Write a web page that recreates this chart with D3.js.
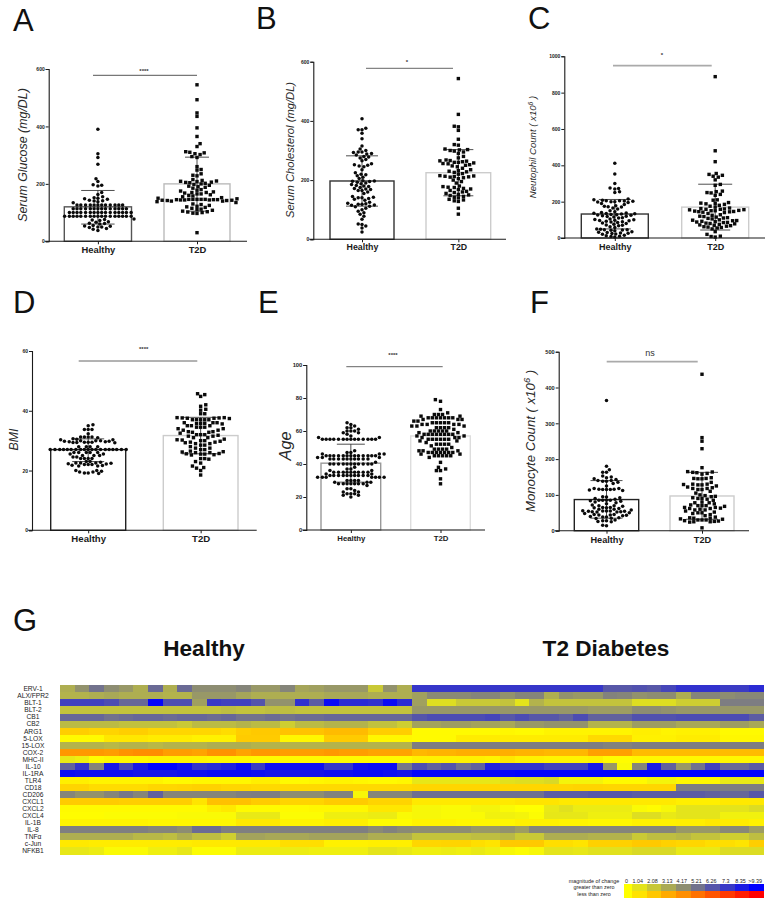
<!DOCTYPE html>
<html><head><meta charset="utf-8">
<script src="https://cdn.jsdelivr.net/npm/d3@7"></script>
<style>html,body{margin:0;padding:0;background:#fff}svg{display:block}text{font-family:"Liberation Sans",Arial,sans-serif}</style>
</head><body><svg id="c" width="774" height="907"></svg>
<script>
const groups=["Healthy","T2D"];
const glucoseHealthy=[390,305,292,268,218,208,197,195,193,170,163,155,152,150,148,146,143,141,140,138,134,
126,126,126,126,126,126,126,126,126,126,126,126,
113,113,113,113,113,113,113,113,113,113,113,113,113,113,
100,100,100,100,100,100,100,100,100,100,100,100,100,100,100,100,
87,87,87,87,87,87,87,87,87,87,87,87,87,87,87,87,87,
78,76,74,72,68,66,63,62,60,55,53,52,50,50,48,45,42,38];
const glucoseT2D=[545,493,447,435,395,365,340,330,312,310,308,305,302,295,292,260,250,248,235,230,228,215,212,210,209,208,206,205,204,202,200,198,195,192,190,188,185,180,178,175,172,170,170,168,165,165,162,160,158,155,152,150,148,146,146,146,146,146,145,145,145,144,144,144,143,143,142,142,140,140,138,135,130,128,125,122,120,118,115,112,110,108,105,103,102,100,98,97,30];
const cholesterolHealthy=[407,375,370,370,358,340,315,305,300,295,295,293,290,288,285,280,278,275,270,265,255,252,250,248,245,235,225,220,218,215,210,205,198,197,196,195,193,190,188,185,182,180,178,175,172,170,168,165,165,160,155,145,142,140,140,138,135,132,125,122,120,118,118,116,115,112,110,105,100,95,90,85,78,68,52,50,45,38,25];
const cholesterolT2D=[543,422,382,380,368,338,320,318,305,303,302,300,298,295,290,280,275,268,266,265,264,262,260,260,258,256,255,252,250,248,245,240,235,232,230,228,226,222,220,215,214,213,212,211,210,208,205,200,195,190,180,178,176,175,172,170,168,165,162,160,158,155,152,150,148,145,142,140,135,133,130,128,105,85];
const neutrophilHealthy=[412,352,300,275,272,270,255,250,215,210,208,205,205,204,202,200,200,198,195,190,185,178,175,172,170,165,160,150,145,140,138,136,135,134,132,130,128,126,125,122,120,118,115,112,110,105,102,100,98,96,95,92,90,88,85,82,80,75,72,70,68,62,58,50,48,46,45,44,42,40,35,32,30,28,26,25,22,20,15,12,10,8,5];
const neutrophilT2D=[888,480,420,355,350,345,340,335,320,295,290,258,255,250,248,240,235,210,208,195,192,190,188,185,180,175,170,165,162,160,158,158,156,155,152,150,150,148,146,145,144,142,140,135,128,125,120,118,115,112,110,108,105,100,98,96,95,92,90,88,86,85,82,80,78,75,72,70,68,65,62,60,58,55,50,35,20,10,8,5];
const bmiHealthy=[35.3,35,33.7,33.7,33.7,32.3,31.2,31.2,31.2,31.2,31,30.6,30.5,30.3,30.3,30,30,30,29.8,29.8,29.6,29.6,29.5,29.5,29.5,29.4,29.4,29.3,28,28,28,28,
27,27,27,27,27,27,27,27,27,27,27,27,27,27,27,27,27,27,27,
26,26,26,26,26,25.5,25.5,25,25,25,24.5,24.5,24,24,24,24,23,23,22.8,22.5,22.5,22.5,22.4,22.3,22.2,22,22,22,21.8,21.7,21.5,21.5,20,20,19.8,19.5,19.5,19.2,19.2,19];
const bmiT2D=[45.7,45.4,44.8,42,41.5,40.5,40.2,39,39,37.7,37.7,37.6,37.6,37.5,37.5,37.4,37,37,37,37,37,36,36,36,35.8,35.8,35.7,35.6,35,35,35,34.5,34.5,34.5,34,34,33.5,33.5,33,33,32.8,32.8,32.5,32,32,32,31.8,31.5,31.5,31,31,30.5,30.3,30.2,30,30,29.8,29.5,29.5,29.3,29,29,28.5,28.5,28,27.5,27.5,27,27,26.5,26.3,26.2,26,26,25.7,25.6,25.5,25.5,25.3,25.2,24,24,23.8,23,22.5,21.5,21,20.8,20,18.5];
const ageHealthy=[65,64,63,62,62,61,60,60,60,59,59,58,57,56,56,
55,55,55,55,55,55,55,55,55,55,55,55,55,55,
48,47,47,46,46,46,45,45,45,45,45,45,45,45,45,45,45,45,45,44,44,44,
43,43,43,43,43,43,43,43,43,43,41,40,40,40,40,40,40,40,40,40,40,40,38,37,37,36,36,
35,35,35,35,35,35,35,35,35,34,34,33,33,33,33,33,33,33,33,33,33,32,32,32,32,32,32,32,
30,30,30,30,29,29,29,28,28,28,28,28,28,28,27,25,25,24,23,23,22,22,22,21,21,20];
const ageT2D=[79,78,73,71,70,70,70,69,69,68,68,68,68,68,68,68,67,67,67,66,66,65,65,65,65,65,64,64,64,64,63,63,63,62,62,62,62,61,60,60,60,60,60,59,59,58,58,58,58,58,58,58,58,57,57,56,56,56,55,55,55,55,55,55,54,54,53,52,52,52,52,51,50,49,49,49,49,48,48,48,47,47,47,47,47,47,47,46,46,45,45,45,45,45,44,41,38,37,36,36,31,28];
const monocyteHealthy=[364,180,170,163,163,153,150,148,145,143,140,140,138,138,135,132,125,118,118,116,116,115,115,115,114,112,95,94,92,90,88,85,85,85,85,84,82,80,78,75,72,70,70,68,65,65,64,64,62,60,60,58,56,55,55,55,54,54,53,53,52,52,50,48,45,45,44,44,43,42,40,38,38,36,35,34,30,28,28,26,25,15,14];
const monocyteT2D=[437,260,250,229,176,165,164,163,162,160,158,148,146,146,145,145,135,130,130,129,128,128,125,122,120,118,118,115,115,110,105,100,98,96,95,92,90,90,88,85,80,78,78,75,72,70,70,70,68,65,65,63,62,62,60,58,58,55,52,50,50,48,45,42,38,36,35,35,33,32,30,30,30,28,27,26,25,25,24,8];
const panelMeans=[[120,200],[197,225],[132,170],[27,31.7],[40.5,57],[87,97]];
const panelSdHigh=[[177,293],[282,303],[212,296],[30.6,37.8],[52,57],[140,163]];
const panelSdLow=[[60,105],[112,147],[50,44],[23,25.6],[29,57],[35,32]];
const panelTicks=[[0,200,400,600],[0,200,400,600],[0,200,400,600,800,1000],[0,20,40,60],[0,20,40,60,80,100],[0,100,200,300,400,500]];
const panelLetters=["A","B","C","D","E","F"];
const panelYLabels=["Serum Glucose (mg/DL)","Serum Cholesterol (mg/DL)",["Neutophil Count ( x10","6"," )"],"BMI","Age",["Monocyte Count ( x10","6"," )"]];
const panelSig=["****","*","*","****","****","ns"];
const geneLabels=["ERV-1","ALX/FPR2","BLT-1","BLT-2","CB1","CB2","ARG1","5-LOX","15-LOX","COX-2","MHC-II","IL-10","IL-1RA","TLR4","CD18","CD206","CXCL1","CXCL2","CXCL4","IL-1B","IL-8","TNFα","c-Jun","NFKB1"];
const heatHealthy=[
[3,4,5.2,4.2,3.8,3,5.5,3,5.5,4.2,4.2,4.2,4.5,3.8,3.8,4.5,3.3,3.5,3.8,3.8,3.8,2,4,3],
[2.8,2.8,3,3.2,3,3,3,2.8,2.8,3.8,3.8,3.8,3.3,3,3,3,3,3,3.2,3.2,3.2,3,3,3],
[7,7,7,6.6,5.6,5.6,9.2,6.5,6.5,3.5,7.3,7,7,6.3,4,4,7.6,6,9,7.8,7.8,7.6,9,7.8],
[2.2,2.2,2.2,2.2,2.2,2.2,2.2,2.2,2.2,2.2,2.2,2.4,2.2,2.2,2.4,2.4,2.2,2.2,2.2,2.2,2.2,2.2,2.2,2.2],
[5.6,5.6,5.6,5.2,5.4,5.6,5.6,5.4,5.6,5.6,5.4,5.6,5.2,5.2,5.4,5.2,5.4,5.4,5.6,5.6,5.6,5.6,5.6,5.6],
[2.5,2.5,2.5,2.5,2.3,2.3,2.3,2.3,2,2.5,2.5,2.5,2.8,2.5,2.5,1.8,2.5,2.5,2.8,2.8,2.8,2.3,2.3,1.8],
[-1.8,-1.8,-1.6,-1.6,-1.8,-1.8,-1.5,-1.5,-1.5,-1.5,-1.5,-1.3,-1.8,-2,-2,-2.2,-2.2,-2.2,-2.5,-2.5,-2.5,-1.8,-1.8,-1.8],
[-0.2,-0.2,-0.2,-0.9,-0.9,-0.9,-0.7,-0.7,-0.7,-0.5,-0.5,-0.5,-1.9,-1.9,-1.9,-0.3,-0.3,-0.3,-1.9,-1.9,-1.9,-0.3,-0.3,-0.3],
[2.8,2.8,2.8,2.6,2.8,2.8,2.6,2.8,2.8,2.8,3,3,3,2.8,2.8,2.8,2.8,2.8,2.8,2.8,2.8,2.8,2.8,2.8],
[-3.8,-3.8,-3.8,-3.6,-4,-4.2,-4.2,-3.6,-3.6,-3.4,-4,-4,-3.4,-3.8,-3.8,-3.6,-3.6,-3.6,-3.8,-3.6,-3.6,-3.4,-3.4,-3.4],
[0.8,0.6,-0.1,-0.3,-0.3,-0.3,-0.4,-0.4,-0.4,-0.4,-0.3,-0.3,-0.3,-0.2,-0.2,-0.2,-0.2,-0.2,-0.2,-0.2,-0.2,-0.2,-0.2,-0.2],
[5.8,7.5,4.5,8.5,6.8,8.5,9.3,9.3,8.8,7.5,7.8,8.2,9,7.2,8.8,8.8,8.8,8.8,7.4,7.4,8.8,9,9,5],
[9,8.8,8.8,8.8,8.8,8.6,8.6,8.6,8.8,8.8,9,9,9,8.8,8.6,8.6,8.6,8.6,8.8,8.8,9,9,8.8,8.6],
[-0.6,-0.6,-0.4,-0.4,-0.4,-0.4,-0.4,-0.2,-0.2,-0.3,-0.3,-0.3,-0.3,-0.6,-0.6,-0.2,-0.2,-0.3,-0.4,-0.4,-0.3,-0.2,-0.2,-0.3],
[-1.6,-1.6,-1.3,-1.3,-1.3,-1.3,-1.5,-1.5,-1.6,-1.7,-1.7,-1.5,-1.5,-1.4,-1.4,-1.4,-1.4,-1.4,-1.4,-1.4,-1.4,-1.4,-1.4,-1.4],
[4.5,4,4,4.5,5,4.5,5.8,4.5,4.5,4.5,4.5,4.5,4.7,4.8,4.8,4.2,4.2,4.2,4.6,4.6,0.3,4.5,4.5,4.5],
[-1.9,-1.9,-1.9,-1.9,-1.8,-1.8,-1.8,-1.8,-1.8,-1,-2.3,-2.3,-2.3,-1.9,-1.9,-1.6,-1.6,-1.6,-1.9,-1.9,-1.9,-1.6,-1.6,-1.6],
[-0.2,-0.2,-0.2,-0.2,-0.2,-0.2,-0.2,-0.2,-0.2,-0.2,-0.6,-0.8,-0.2,-0.2,-0.2,-0.2,-0.2,-0.3,-0.3,-0.3,-0.3,-0.9,-0.9,-0.9],
[-0.1,-0.1,-0.1,0.1,0.1,0.1,0.1,0.1,0.2,0.2,0.2,0.2,0.8,0.8,0.8,0.1,0.1,0.1,0.6,0.6,0.6,0.7,0.7,0.2],
[-0.4,-0.4,-0.4,-0.4,-0.4,-0.4,-0.3,-0.3,-0.3,-0.3,-0.3,-0.3,-0.8,-0.8,-0.8,-0.4,-0.4,-0.4,-0.6,-0.6,-0.6,-0.1,-0.1,-0.1],
[4.7,4.7,4.7,4.7,4.7,4.7,4.5,4.5,4.2,5.4,5.4,4.7,4.7,4.7,4.7,4.7,4.7,4.7,4.7,4.7,4.7,4.3,4.6,4.3],
[3,3,3,3,3,2.6,2.6,2.4,3,2.4,2.4,1.8,3.4,3.4,3.2,3.2,3.2,3.4,3.4,3.4,3.4,3,3,3],
[-0.8,-0.8,-0.7,-0.7,-0.7,-0.7,-0.7,-0.7,-0.7,-0.8,-0.8,-0.8,-0.8,-0.8,-0.8,-1.2,-1.2,-1.2,-0.5,-0.5,-0.5,-0.6,-0.6,-0.6],
[0.9,0.9,0.7,0.2,0.2,0.2,0.6,0.6,0.9,0.1,0.1,0.1,0.7,0.7,0.7,0.7,0.7,0.6,0.6,0.6,0.6,1,1,0.8]];
const heatT2D=[
[7.4,7.4,7.4,7.4,7.4,7.4,7.4,7.4,7.4,7.4,7.4,7.4,7.4,6.2,6.2,6.4,6.2,6.8,7.6,7.6,7.6,7.2,7.2,7.8],
[3.5,4.3,4.3,4.3,4.5,4.5,4,4.5,4.5,3,4,3.8,3.8,4.6,4.5,4,4.2,4.2,3,4.5,4.5,4.2,4.4,4.4],
[3.5,1.2,1.2,2,2,2,2.2,1,2.8,2.2,2.2,2.2,2.2,2.2,2.2,1.2,1.2,1.2,1.8,1.8,1.8,4.8,4.8,4.8],
[3.8,3.8,3.8,3.8,3.8,3.8,3.8,3.8,3.8,3.8,3.8,3.8,3.6,3.6,3.6,4.2,4.2,4,3.8,3.8,3.8,3.8,3.8,3.8],
[6.3,6.6,6.6,6.6,6.6,6.8,6.2,6.6,6.2,6.2,5.8,6.6,5.8,5.8,5.8,6.4,6.4,6.4,6.6,6.6,6.6,6.6,6.6,6],
[3.4,3.4,3.6,3.6,3.4,3.4,3.2,3.8,3.8,4,4,4,2.8,2.8,2.8,3.6,3.6,3.6,3.2,3.2,3.2,3.6,3.6,3.2],
[-0.2,-0.2,-0.2,-0.2,-0.2,-0.2,-0.3,-0.2,-0.2,-0.4,-0.4,-0.4,-0.4,-0.4,-0.4,-0.6,-0.6,-0.4,-0.5,-0.5,-0.5,-0.2,-0.2,-0.2],
[-0.2,-0.2,-0.2,-0.7,-0.7,-0.7,-0.7,-0.7,-0.7,-0.7,-0.7,-0.7,-1.4,-1.4,-1.4,-0.5,-0.5,-0.5,-0.7,-0.7,-0.7,-0.3,-0.3,-0.3],
[4.8,4.8,4.8,4.8,4.8,4.8,4.8,4.8,4.8,4.8,4.8,4.8,4.8,4.6,4.6,4.8,4.8,4.8,4.8,4.8,4.8,4.8,4.8,4.8],
[-2.6,-2.8,-2.8,-3,-3,-3,-3,-2.8,-2.8,-2.6,-2.6,-2.6,-3.5,-3.5,-3.5,-2.5,-2.5,-2.5,-2.5,-2.5,-2.5,-2.5,-2.5,-2.5],
[-0.5,-0.5,-0.5,-0.5,-0.5,-0.4,-0.9,-0.5,-0.5,-0.4,-0.4,-0.4,-0.5,-0.1,-0.1,-0.3,-0.3,-0.3,-0.3,-0.3,-0.3,-0.3,-0.3,-0.3],
[6.5,5.8,6.3,5.3,5.8,8.2,7.5,7.5,7.5,7,7,7,8.5,3.8,0.2,4.5,8.4,5.8,3.8,5.2,7,5.5,5.5,6],
[9.2,9.2,9.2,9.2,9.2,9.2,9.2,9.3,9.3,9.3,9.3,9.3,9.3,9.3,9.3,9.3,9.3,9.3,9.3,9.3,9.3,9.3,9.3,9.3],
[0.9,0.9,0.9,0.9,0.9,0.9,1.1,1.2,1.2,1.4,0.4,0.4,0.4,-0.2,-0.2,-0.2,0.4,0.4,-0.3,-0.3,-0.3,0.8,0.8,0.8],
[-1.5,-1.5,-1.5,-1.5,-1.5,-1.5,-1.5,-1.5,-1.5,-1.5,-1.5,-1.6,-1.6,-1.5,-1.5,-1.5,-1.5,-1.5,4.8,4.8,4.8,4.8,4.8,4.8],
[5.3,5.3,5.3,5.3,5.3,5.3,5.3,5.3,5.3,6,6,6,6.2,6.2,6.2,6,6,6,6,6,5.8,5.6,5.6,6.2],
[-0.8,-0.8,-0.8,-0.8,-0.8,-0.8,-0.8,-1,-1,-1,-0.8,-0.8,-0.8,-0.8,-0.8,-0.8,-0.8,-0.8,-0.6,-0.6,-0.6,-0.8,-0.8,-0.8],
[0.3,0.3,0.2,0.2,0.4,0.4,0.2,0,0,0.8,1.1,0.7,0.7,0.7,0.7,0.2,-0.1,0.3,1,1,1,1,1,1.3],
[0.3,0.3,0.2,0.2,0.2,0.5,0.5,0.4,0.1,0.9,0.9,0.9,0.6,0.6,0.6,1.2,1.2,0.8,1,1,1,0.5,0.5,0.5],
[-0.4,-0.4,-0.4,-0.3,-0.3,-0.3,-0.3,-0.5,-0.5,-0.5,-0.4,-0.4,-0.3,-0.3,-0.3,-0.5,-0.5,-0.5,-0.6,-0.6,-0.8,-0.7,-0.7,-0.5],
[4.2,4.2,4.2,4.2,3.8,3.8,4,3.6,4.5,4.5,4.5,4.5,4.5,4.5,4.5,4.5,4.5,4.5,3.8,3.8,3.8,4.4,4.4,3.6],
[2.2,2.2,2.2,2.2,2.4,2.4,2.6,2,2,3,3,3,2.8,2.8,2.8,2,2.4,2.4,2.6,2.2,2.2,1.8,1.8,2.4],
[-1.5,-1.5,-1.6,-1.6,-1.2,-1,-2,-2,-2,-1.2,-1.2,-1,-1.7,-1.7,-1.7,-2,-2,-1.7,-1.5,-1.5,-1.2,-1.2,-1,-1.8],
[0.6,0.6,0.7,0.6,0.8,0.6,0.3,0.1,0.3,1,1,0.9,1.1,1.1,1.1,1.4,1.4,1.4,0.8,0.8,0.8,1.3,1.3,1.3]];
const heatGroupTitles=["Healthy","T2 Diabetes"];
const legendLabels=["0","1.04","2.08","3.13","4.17","5.21","6.26","7.3","8.35",">9.39"];
const legendValues=[0,1.04,2.08,3.13,4.17,5.21,6.26,7.3,8.35,9.39];
const legendRowText=["magnitude of change","greater than zero","less than zero"];
const panelData=[[glucoseHealthy,glucoseT2D],[cholesterolHealthy,cholesterolT2D],[neutrophilHealthy,neutrophilT2D],[bmiHealthy,bmiT2D],[ageHealthy,ageT2D],[monocyteHealthy,monocyteT2D]];

// layout options
const layout=[
{ax:48.7,y0:241.3,yT:69,xEnd:247,bars:[[64.3,131.5],[164,230]],sig:[93,197,75.3,1],sigT:[144,73],let:[13,30.5],yl:[27,155,12.4],xf:9.4,xy:252.7,tf:5,c:["#555","#bbb"],caps:[[16.7,16.7],[12,11]]},
{ax:313.3,y0:239.3,yT:61.7,xEnd:506,bars:[[330,394],[426,490.7]],sig:[366,453,68.3,0.9],sigT:[407,64],let:[256,29],yl:[294,150,11.2],xf:8.8,xy:250,tf:5,c:["#333","#ccc"],caps:[[16,16],[15,15]]},
{ax:564.3,y0:238,yT:56.3,xEnd:765,bars:[[581.3,648.3],[681.7,748.7]],sig:[613,711.7,65.7,1.8],sigT:[662,57],let:[528,29],yl:[536,147,9.6],xf:9,xy:250,tf:5,c:["#333","#ccc"],caps:[[16,16],[17,15]]},
{ax:32,y0:530.3,yT:351,xEnd:256.7,bars:[[50.7,125.7],[163.3,238]],sig:[78.7,197.3,361,0.9],sigT:[143.7,350.5],let:[13,312.7],yl:[18,439.5,12.4],xf:9.6,xy:542,tf:5,c:["#222","#ccc"],caps:[[16,16],[19,19]]},
{ax:306.3,y0:530,yT:365,xEnd:485,bars:[[321,380.7],[410.7,470.3]],sig:[346.3,442.7,366.7,0.9],sigT:[393,356.5],let:[258,312.7],yl:[291,446,16.3],xf:7.8,xy:541,tf:5.8,c:["#999","#ddd"],caps:[[14,14],[0,0]]},
{ax:558.7,y0:530.7,yT:351.7,xEnd:749,bars:[[574.3,638.7],[670,734]],sig:[606.7,697.7,361.7,1.8],sigT:[650,356],let:[530,312.7],yl:[535,441,13.2],xf:9.2,xy:543,tf:5.6,c:["#222","#ccc"],caps:[[16,16],[16,16]]}];

const svg=d3.select("#c");
const ink="#1a1a1a";

function swarm(values,y,wx,hy,rowGap){
  const placed=[];
  const counts=d3.rollup(values,v=>v.length,d=>d);
  const sorted=values.slice().sort((a,b)=>(counts.get(b)-counts.get(a))||(a-b));
  const clear=(p,c,py)=>{
    const dy=Math.abs(p.py-py),dx=Math.abs(p.dx-c);
    return dy<0.6?dx>=rowGap:(dx/wx)**2+(dy/hy)**2>=1;
  };
  sorted.forEach((v,i)=>{
    const py=y(v);let off=0;
    for(let k=0;k<160;k++){
      const mag=Math.ceil(k/2)*rowGap/4, side=(k%2===0?1:-1)*(i%2?1:-1);
      const c=mag*side;
      if(placed.every(p=>clear(p,c,py))){off=c;break;}
    }
    placed.push({dx:off,py,v});
  });
  return placed;
}

layout.forEach((L,pi)=>{
  const g=svg.append("g");
  const dom=panelTicks[pi];
  const y=d3.scaleLinear().domain([0,dom[dom.length-1]]).range([L.y0,L.yT]);
  const centers=L.bars.map(b=>(b[0]+b[1])/2);
  const x=d3.scalePoint().domain(groups).range(centers);
  g.selectAll("rect.bar").data(groups).join("rect")
    .attr("x",(d,i)=>L.bars[i][0]).attr("width",(d,i)=>L.bars[i][1]-L.bars[i][0])
    .attr("y",(d,i)=>y(panelMeans[pi][i])).attr("height",(d,i)=>L.y0-y(panelMeans[pi][i]))
    .attr("fill","#fff").attr("stroke",(d,i)=>L.c[i]).attr("stroke-width",1.4);
  groups.forEach((gr,i)=>{
    const cx=x(gr),hi=panelSdHigh[pi][i],lo=panelSdLow[pi][i];
    if(L.caps[i][0]===0)return;
    g.append("line").attr("x1",cx).attr("x2",cx).attr("y1",y(hi)).attr("y2",y(lo)).attr("stroke","#222").attr("stroke-width",.8);
    g.append("line").attr("x1",cx-L.caps[i][0]).attr("x2",cx+L.caps[i][0]).attr("y1",y(hi)).attr("y2",y(hi)).attr("stroke","#222").attr("stroke-width",.8);
    g.append("line").attr("x1",cx-L.caps[i][1]).attr("x2",cx+L.caps[i][1]).attr("y1",y(lo)).attr("y2",y(lo)).attr("stroke","#222").attr("stroke-width",.8);
  });
  const pts0=swarm(panelData[pi][0],y,4.3,3.1,3.8);
  g.selectAll("circle.p").data(pts0).join("circle")
    .attr("cx",p=>x(groups[0])+p.dx).attr("cy",p=>y(p.v)).attr("r",1.75).attr("fill","#0a0a0a");
  const pts1=swarm(panelData[pi][1],y,4.7,3.4,4.1);
  g.selectAll("rect.p").data(pts1).join("rect")
    .attr("x",p=>x(groups[1])+p.dx-1.7).attr("y",p=>y(p.v)-1.7).attr("width",3.4).attr("height",3.4).attr("fill","#0a0a0a");
  const ya=g.append("g").attr("transform",`translate(${L.ax},0)`).call(d3.axisLeft(y).tickValues(dom).tickFormat(d3.format("d")).tickSize(3).tickPadding(1));
  ya.select(".domain").attr("stroke",ink).attr("stroke-width",1.1);
  ya.selectAll(".tick line").attr("stroke",ink).attr("stroke-width",1);
  ya.selectAll("text").attr("font-size",L.tf).attr("font-weight","bold").attr("fill",ink).attr("font-family","Liberation Sans");
  const xa=g.append("g").attr("transform",`translate(0,${L.y0})`).call(d3.axisBottom(x).tickSize(3).tickSizeOuter(0));
  xa.select(".domain").remove();
  xa.selectAll(".tick line").attr("stroke",ink).attr("stroke-width",1);
  xa.selectAll("text").attr("font-size",L.xf).attr("font-weight","bold").attr("fill",ink).attr("font-family","Liberation Sans")
    .attr("y",L.xy-L.y0).attr("dy",0);
  g.append("line").attr("x1",L.ax-4).attr("x2",L.xEnd).attr("y1",L.y0).attr("y2",L.y0).attr("stroke",ink).attr("stroke-width",1.1);
  g.append("line").attr("x1",L.sig[0]).attr("x2",L.sig[1]).attr("y1",L.sig[2]).attr("y2",L.sig[2]).attr("stroke",L.sig[3]>1?"#aaa":"#555").attr("stroke-width",L.sig[3]);
  const isNs=panelSig[pi]==="ns";
  g.append("text").attr("x",L.sigT[0]).attr("y",L.sigT[1]).attr("text-anchor","middle").attr("font-size",isNs?9:6).attr("font-weight",isNs?"normal":"bold").attr("fill","#333").text(panelSig[pi]);
  g.append("text").attr("x",L.let[0]).attr("y",L.let[1]).attr("font-size",31).attr("fill","#111").text(panelLetters[pi]);
  const yl=g.append("text").attr("transform",`translate(${L.yl[0]},${L.yl[1]}) rotate(-90)`).attr("text-anchor","middle")
    .attr("font-size",L.yl[2]).attr("font-style","italic").attr("fill","#2a2a2a");
  const t=panelYLabels[pi];
  if(typeof t==="string")yl.text(t);
  else{
    yl.append("tspan").text(t[0]);
    yl.append("tspan").attr("dy",-L.yl[2]*.35).attr("font-size",L.yl[2]*.7).text(t[1]);
    yl.append("tspan").attr("dy",L.yl[2]*.35).text(t[2]);
  }
});

svg.append("text").attr("x",13).attr("y",631).attr("font-size",31).attr("fill","#111").text("G");
svg.selectAll("text.gt").data(heatGroupTitles).join("text")
  .attr("x",(d,i)=>[204,606][i]).attr("y",656).attr("text-anchor","middle")
  .attr("font-size",22.6).attr("font-weight","bold").attr("fill","#111").text(d=>d);

const colPos=d3.scaleBand().domain(d3.range(48)).range([60,764]);
const rowPos=d3.scaleBand().domain(geneLabels).range([685.3,854.5]);
const posColor=d3.scaleLinear().domain([0,9.39]).range(["#ffff00","#0000ff"]).clamp(true);
const negColor=d3.scaleLinear().domain([0,9.39]).range(["#ffff00","#ff0000"]).clamp(true);
const color=v=>v>=0?posColor(v):negColor(-v);
const heat=svg.append("g").attr("shape-rendering","crispEdges");
geneLabels.forEach((gene,r)=>{
  const rowVals=heatHealthy[r].concat(heatT2D[r]);
  heat.selectAll(null).data(rowVals).join("rect")
    .attr("x",(d,i)=>colPos(i)).attr("y",rowPos(gene))
    .attr("width",colPos.bandwidth()+.3).attr("height",rowPos.bandwidth()+.3)
    .attr("fill",d=>color(d));
});
svg.selectAll("text.gene").data(geneLabels).join("text")
  .attr("x",33).attr("y",d=>rowPos(d)+rowPos.bandwidth()/2+2.4).attr("text-anchor","middle")
  .attr("font-size",6.7).attr("fill","#222").text(d=>d);

const legBand=d3.scaleBand().domain(legendLabels).range([617.3,764]);
const legX=d=>Math.max(legBand(d),624);
const legW=d=>legBand(d)+legBand.bandwidth()-legX(d);
const lg=svg.append("g").attr("shape-rendering","crispEdges");
[[1,884],[-1,891]].forEach(([sgn,yy])=>{
  lg.selectAll(null).data(legendLabels).join("rect")
    .attr("x",legX).attr("y",yy).attr("width",d=>legW(d)+.2).attr("height",7)
    .attr("fill",(d,i)=>color(sgn*legendValues[i]));
});
svg.selectAll("text.ll").data(legendLabels).join("text")
  .attr("x",d=>legX(d)+legW(d)/2-1.5).attr("y",882.5).attr("text-anchor","middle")
  .attr("font-size",5.4).attr("fill","#222").text(d=>d);
svg.selectAll("text.lr").data(legendRowText).join("text")
  .attr("x",594).attr("y",(d,i)=>[882.5,889.3,896][i]).attr("text-anchor","middle")
  .attr("font-size",5.4).attr("fill","#222").text(d=>d);
</script></body></html>
